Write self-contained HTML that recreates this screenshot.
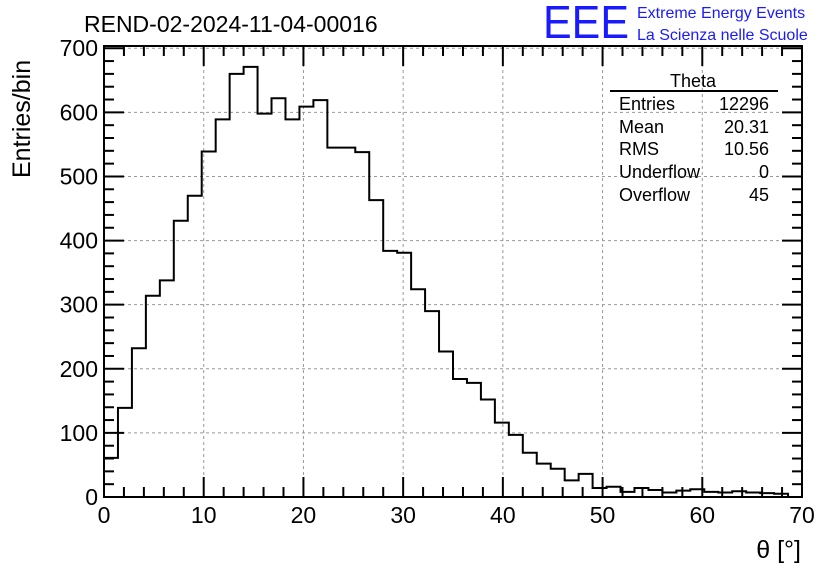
<!DOCTYPE html>
<html><head><meta charset="utf-8"><style>body{margin:0;background:#fff}svg{display:block;font-family:"Liberation Sans",sans-serif}</style></head>
<body>
<svg id="chart" width="836" height="572" viewBox="0 0 836 572" xmlns="http://www.w3.org/2000/svg">
<rect width="836" height="572" fill="#fff"/>
<g id="grid"></g>
<g id="hist"></g>
<g id="axes"></g>
<text x="84" y="32" font-size="23">REND-02-2024-11-04-00016</text>
<text x="543" y="38" font-size="46" fill="#1a1aff" textLength="86" lengthAdjust="spacingAndGlyphs">EEE</text>
<text x="637" y="18" font-size="16" fill="#1a1aff">Extreme Energy Events</text>
<text x="637" y="40" font-size="16" fill="#1a1aff">La Scienza nelle Scuole</text>
<text transform="translate(30,178) rotate(-90)" font-size="25">Entries/bin</text>
<text x="801" y="558" font-size="25" text-anchor="end">θ [°]</text>
<g font-size="18">
<text x="693" y="87" text-anchor="middle">Theta</text>
<line x1="610" y1="91" x2="778" y2="91" stroke="#000" stroke-width="2"/>
<text x="619" y="110">Entries</text><text x="769" y="110" text-anchor="end">12296</text>
<text x="619" y="133">Mean</text><text x="769" y="133" text-anchor="end">20.31</text>
<text x="619" y="155">RMS</text><text x="769" y="155" text-anchor="end">10.56</text>
<text x="619" y="178">Underflow</text><text x="769" y="178" text-anchor="end">0</text>
<text x="619" y="201">Overflow</text><text x="769" y="201" text-anchor="end">45</text>
</g>
</svg>
<script>
const counts=[61,139,232,314,338,431,470,539,589,660,671,598,622,589,609,619,545,545,538,463,384,381,324,290,227,184,178,152,116,97,69,52,44,26,36,14,16,8,14,11,7,10,12,8,7,9,7,6,5];
const xTicks=[0,10,20,30,40,50,60,70];
const yTicks=[0,100,200,300,400,500,600,700];
const binWidth=1.4;
const xMin=0,xMax=70,yMin=0,yMax=703.5;
const L=104,R=802,T=46,B=497;
const NS="http://www.w3.org/2000/svg";
const X=v=>L+(v-xMin)/(xMax-xMin)*(R-L);
const Y=v=>B-(v-yMin)/(yMax-yMin)*(B-T);
function mk(t,a,p){const e=document.createElementNS(NS,t);for(const k in a)e.setAttribute(k,a[k]);p.appendChild(e);return e;}
const grid=document.getElementById('grid'),axes=document.getElementById('axes'),hist=document.getElementById('hist');
xTicks.forEach(v=>{if(v>xMin&&v<xMax){const g=mk('line',{x1:X(v),x2:X(v),y1:T,y2:B,stroke:'#999','stroke-dasharray':'3,3','stroke-width':1},grid);

}});
yTicks.forEach(v=>{if(v>yMin&&v<=yMax){const g=mk('line',{x1:L,x2:R,y1:Y(v),y2:Y(v),stroke:'#999','stroke-dasharray':'3,3','stroke-width':1},grid);

}});
let d='M'+X(0)+' '+B;
counts.forEach((c,i)=>{d+=' L'+X(i*binWidth)+' '+Y(c)+' L'+X((i+1)*binWidth)+' '+Y(c);});
d+=' L'+X(counts.length*binWidth)+' '+B;
const p=mk('path',{d:d,fill:'none',stroke:'#000','stroke-width':2},hist);


mk('rect',{x:L,y:T,width:R-L,height:B-T,fill:'none',stroke:'#000','stroke-width':2},axes);
for(let v=xMin;v<=xMax;v+=2){const len=v%10===0?20:10;
mk('line',{x1:X(v),x2:X(v),y1:B,y2:B-len,stroke:'#000','stroke-width':2},axes);
mk('line',{x1:X(v),x2:X(v),y1:T,y2:T+len,stroke:'#000','stroke-width':2},axes);}
for(let v=yMin;v<=700;v+=20){const len=v%100===0?20:10;
mk('line',{x1:L,x2:L+len,y1:Y(v),y2:Y(v),stroke:'#000','stroke-width':2},axes);
mk('line',{x1:R,x2:R-len,y1:Y(v),y2:Y(v),stroke:'#000','stroke-width':2},axes);}
xTicks.forEach(v=>{const t=mk('text',{x:X(v),y:523,'font-size':23,'text-anchor':'middle'},axes);t.textContent=v;

});
yTicks.forEach(v=>{const t=mk('text',{x:98,y:Y(v)+8,'font-size':23,'text-anchor':'end'},axes);t.textContent=v;

});
</script>
</body></html>
